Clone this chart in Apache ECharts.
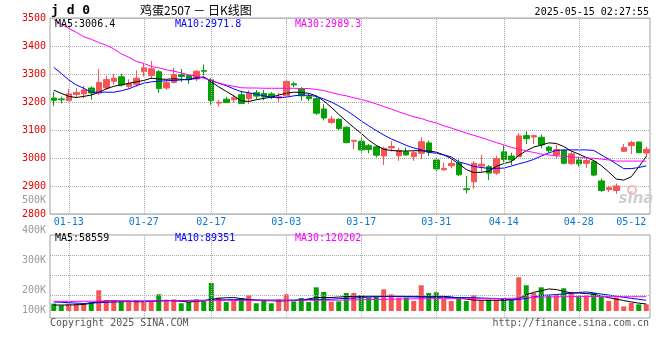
<!DOCTYPE html>
<html>
<head>
<meta charset="utf-8">
<script src="https://cdn.jsdelivr.net/npm/echarts@6.0.0/dist/echarts.min.js"></script>
<style>html,body{margin:0;padding:0;background:#fff;}#c{width:660px;height:360px;}</style>
</head>
<body>
<div id="c"></div>
<script>
const dates = ['01-09','01-10','01-13','01-14','01-15','01-16','01-17','01-20','01-21','01-22','01-23','01-24','01-27',
'02-05','02-06','02-07','02-10','02-11','02-12','02-13','02-14','02-17','02-18','02-19','02-20','02-21','02-24','02-25','02-26','02-27','02-28',
'03-03','03-04','03-05','03-06','03-07','03-10','03-11','03-12','03-13','03-14','03-17','03-18','03-19','03-20','03-21','03-24','03-25','03-26','03-27','03-28','03-31',
'04-01','04-02','04-03','04-07','04-08','04-09','04-10','04-11','04-14','04-15','04-16','04-17','04-18','04-21','04-22','04-23','04-24','04-25','04-28','04-29','04-30',
'05-06','05-07','05-08','05-09','05-12','05-13','05-14'];

const opens  = [3214,3211,3205,3227,3229,3250,3232,3250,3274,3290, 3256,3263,3308,3295,3308,3250,3270,3297,3295,3282,
                3312,3279,3196,3210,3208,3226,3212,3233,3230,3229, 3214,3222,3265,3247,3219,3212,3175,3127,3138,3110,
                3060,3060,3044,3040,3007,3036,3008,3022,3005,3017, 3054,2993,2958,2972,2982,2890,2915,2971,2969,2946,
                3022,3007,3005,3080,3075,3074,3039,3011,3027,2980, 2993,2981,2987,2918,2887,2884,3024,3044,3057,3018];
const closes = [3206,3208,3229,3234,3243,3232,3270,3280,3285,3261, 3266,3285,3322,3319,3248,3270,3298,3291,3282,3310,
                3310,3205,3199,3198,3215,3195,3230,3221,3218,3217, 3219,3273,3261,3222,3212,3160,3143,3139,3105,3055,
                3063,3029,3030,3010,3035,3041,3027,3011,3019,3058, 3021,2961,2963,2980,2940,2887,2981,2978,2946,2998,
                2994,2993,3079,3069,3080,3047,3026,3030,2981,3015, 2979,2991,2939,2884,2894,2900,3037,3055,3019,3031];
const lows   = [3186,3195,3203,3216,3213,3208,3225,3244,3262,3255, 3248,3255,3291,3282,3232,3243,3267,3272,3265,3275,
                3295,3190,3184,3196,3198,3193,3193,3210,3206,3210, 3199,3215,3253,3205,3203,3154,3134,3122,3100,3053,
                3032,3019,3017,3002,2975,3023,2990,3008,2990,2996, 3008,2953,2954,2963,2936,2874,2890,2951,2921,2939,
                2985,2975,3003,3050,3050,3035,3020,2999,2977,2976, 2969,2965,2935,2879,2879,2872,3022,3014,3017,3002];
const highs  = [3236,3219,3247,3250,3257,3255,3318,3294,3300,3300, 3281,3313,3339,3347,3315,3278,3322,3318,3299,3314,
                3334,3286,3208,3219,3225,3240,3242,3243,3243,3235, 3233,3281,3272,3253,3229,3219,3193,3150,3142,3112,
                3064,3076,3050,3046,3040,3060,3036,3037,3026,3074, 3062,3000,2983,2995,2995,2936,2989,3011,2975,3008,
                3045,3019,3088,3095,3082,3084,3043,3047,3030,3023, 3005,3001,2993,2927,2901,2909,3050,3062,3059,3040];

const ma5  = [3242,3231,3220,3216,3220,3225,3234,3247,3256,3261, 3267,3272,3277,3285,3282,3281,3283,3281,3279,3286,
              3290,3272,3254,3238,3222,3204,3202,3208,3213,3217, 3225,3231,3235,3234,3231,3222,3204,3181,3156,3132,
              3109,3088,3064,3045,3031,3027,3025,3025,3026,3026, 3025,3021,3011,2998,2979,2959,2948,2949,2953,2970,
              2980,2987,3009,3026,3039,3046,3054,3052,3041,3025, 3014,3002,2991,2973,2950,2925,2921,2933,2968,3006];
const ma10 = [3324,3302,3279,3261,3249,3235,3235,3235,3235,3240, 3247,3258,3267,3272,3274,3276,3277,3279,3281,3285,
              3288,3276,3267,3258,3247,3237,3233,3228,3222,3217, 3216,3217,3222,3225,3224,3220,3211,3200,3186,3170,
              3152,3132,3115,3098,3082,3068,3057,3045,3036,3029, 3020,3017,3011,3004,2986,2979,2970,2966,2963,2963,
              2964,2971,2979,2986,2995,3007,3018,3027,3029,3029, 3029,3029,3027,3011,2996,2979,2962,2962,2966,2972];
const ma30 = [3494,3478,3463,3449,3433,3424,3412,3403,3390,3372, 3360,3345,3338,3327,3322,3315,3310,3304,3297,3292,
              3285,3277,3268,3261,3256,3251,3250,3250,3249,3249, 3249,3249,3249,3248,3248,3245,3241,3234,3227,3222,
              3215,3209,3202,3193,3184,3175,3165,3156,3147,3141, 3132,3125,3115,3107,3098,3089,3081,3073,3064,3055,
              3047,3038,3032,3025,3020,3014,3011,3008,3006,3004, 3002,3000,2999,2996,2993,2989,2989,2989,2989,2989];

const volumesK = [62,48,62,62,67,76,174,90,90,84, 76,90,76,76,140,84,98,65,76,98,
                  90,235,112,76,90,109,132,65,90,65, 98,140,81,109,76,199,160,78,81,151,
                  151,132,112,123,182,140,112,112,84,216, 151,157,101,84,112,84,132,90,95,95,
                  109,90,283,216,151,199,132,140,191,160, 123,132,151,118,84,112,39,67,56,56];
const volMa5K  = [50,50,50,52,55,65,79,84,84,84, 84,77,79,81,86,90,86,81,76,80,
                  86,98,107,111,113,104,96,90,87,86, 84,86,88,90,102,113,113,113,117,121,
                  123,123,124,124,124,124,124,123,123,123, 123,123,123,118,108,100,92,90,90,90,
                  90,97,104,136,157,170,185,180,165,152, 150,147,140,126,112,100,88,76,66,59];
const volMa10K = [76,73,70,66,63,67,70,73,75,78, 80,82,83,84,85,86,87,88,89,90,
                  90,92,93,94,96,95,94,93,92,91, 90,90,92,94,96,98,98,99,103,106,
                  109,113,117,120,123,122,121,119,118,117, 116,115,115,114,113,113,111,109,107,105,
                  98,90,98,106,118,130,134,138,144,150, 155,160,152,142,134,125,115,106,98,90];
const volMa30K = [81,81,81,81,82,82,82,82,83,83, 83,84,84,84,85,85,86,86,87,87,
                  88,88,88,89,89,89,89,90,90,90, 90,90,90,90,90,90,90,90,91,92,
                  93,94,96,97,98,99,100,101,102,103, 104,104,104,104,104,104,104,104,104,104,
                  105,107,109,112,115,117,118,119,120,121, 122,122,122,121,121,120,120,120,120,120];

const labelDates = ['01-13','01-27','02-17','03-03','03-17','03-31','04-14','04-28','05-12'];
const gridDates  = ['01-13','01-27','02-17','03-03','03-17','03-31','04-14','04-28'];
const priceMin = 2800, priceMax = 3500, priceStep = 100;
const volMaxK = 638;
const volTickLabels = ['500K','400K','300K','200K','100K'];
const volGridK = [134, 302, 470];
const legendMain = ['MA5:3006.4','MA10:2971.8','MA30:2989.3'];
const legendVol  = ['MA5:58559','MA10:89351','MA30:120202'];
const titleCode = 'j d 0';
const titleName = '鸡蛋2507 － 日K线图';
const stamp = '2025-05-15 02:27:55';

const RED = '#f75454', GREEN = '#06a006';
const MONO = '"DejaVu Sans Mono", monospace';
const gridLine = {color:'#aaaaaa', type:[1,1], width:1};

const chart = echarts.init(document.getElementById('c'), null, {renderer:'canvas'});

const candleData = dates.map((d,i)=>[opens[i], closes[i], lows[i], highs[i]]);
const volData = volumesK.map((v,i)=>({value:v, itemStyle:{color: closes[i] >= opens[i] ? RED : GREEN}}));

function txt(x, y, s, fill, font, align){
  return {type:'text', x:x, y:y, silent:true, z:100,
    style:{text:s, fill:fill, font:font, textAlign:align||'left', align:align||'left',
           textVerticalAlign:'middle', verticalAlign:'middle'}};
}
const legendColors = ['#000000','#0000ff','#ff00ff'];
const legendX = [55, 175, 295];
const volLabelY = [200.5, 230.5, 260.5, 290.5, 310];

const graphics = [
  txt(51, 11, titleCode, '#000', 'bold 13px "DejaVu Sans Mono", monospace'),
  txt(140, 10, titleName, '#000', '12px "Noto Sans CJK SC"'),
  txt(649, 12, stamp, '#000', '10px ' + MONO, 'right'),
  txt(649, 323, 'http://finance.sina.com.cn', '#555', '10px ' + MONO, 'right'),
  txt(50, 323, 'Copyright 2025 SINA.COM', '#555', '10px ' + MONO),
  {type:'circle', shape:{cx:632, cy:190, r:4}, silent:true, z:5,
    style:{fill:'none', stroke:'#f3b7b7', lineWidth:2}},
  txt(636, 199, 'sina', '#cfcfcf', 'italic bold 15px "DejaVu Sans"', 'center')
];
legendMain.forEach((s,k)=>graphics.push(txt(legendX[k], 24.5, s, legendColors[k], '10px ' + MONO)));
legendVol.forEach((s,k)=>graphics.push(txt(legendX[k], 238.5, s, legendColors[k], '10px ' + MONO)));
volTickLabels.forEach((s,k)=>graphics.push(txt(46, volLabelY[k], s, '#9a9a9a', '10px ' + MONO, 'right')));

function maLine(name, data, color, xi, yi){
  return {name:name, type:'line', data:data, xAxisIndex:xi, yAxisIndex:yi, symbol:'none', z:4,
    silent:true, lineStyle:{color:color, width:1}, itemStyle:{color:color}};
}
function hiddenCat(gi){
  return {type:'category', data:dates, gridIndex:gi, boundaryGap:true,
      axisLine:{show:false}, axisTick:{show:false}, splitLine:{show:false}, axisLabel:{show:false}};
}

const option = {
  animation:false,
  backgroundColor:'#fff',
  grid:[
    {left:50, top:18, width:600, height:196, show:true, borderColor:'#a0a0a0', borderWidth:1},
    {left:50, top:235, width:600, height:76, show:false},
    {left:50, top:235, width:600, height:83, show:true, borderColor:'#a0a0a0', borderWidth:1}
  ],
  xAxis:[
    {type:'category', data:dates, gridIndex:0, boundaryGap:true,
      axisLine:{show:false}, axisTick:{show:false}, splitLine:{show:false},
      axisLabel:{interval:(i,v)=>labelDates.includes(v), color:'#0a78d2', fontSize:10, fontFamily:MONO, margin:3}},
    hiddenCat(1),
    hiddenCat(2)
  ],
  yAxis:[
    {type:'value', gridIndex:0, min:priceMin, max:priceMax, interval:priceStep,
      axisLine:{show:false}, axisTick:{show:false},
      splitLine:{show:true, lineStyle:gridLine},
      axisLabel:{color:'#e60000', fontSize:10, fontFamily:MONO, margin:4, formatter:v=>String(v)}},
    {type:'value', gridIndex:1, min:0, max:volMaxK,
      axisLine:{show:false}, axisTick:{show:false}, splitLine:{show:false}, axisLabel:{show:false}},
    {type:'value', gridIndex:2, min:0, max:1,
      axisLine:{show:false}, axisTick:{show:false}, splitLine:{show:false}, axisLabel:{show:false}}
  ],
  graphic: graphics,
  series:[
    {type:'line', xAxisIndex:0, yAxisIndex:0, data:[], z:1, silent:true,
      markLine:{silent:true, symbol:['none','none'], label:{show:false}, lineStyle:gridLine,
        emphasis:{disabled:true}, animation:false, data: gridDates.map(d=>({xAxis:d}))}},
    {type:'candlestick', xAxisIndex:0, yAxisIndex:0, data:candleData, barWidth:6, z:3, silent:true,
      itemStyle:{color:RED, color0:GREEN, borderColor:RED, borderColor0:GREEN, borderWidth:1}},
    maLine('MA5', ma5, '#000000', 0, 0),
    maLine('MA10', ma10, '#0000ff', 0, 0),
    maLine('MA30', ma30, '#ff00ff', 0, 0),
    {type:'line', xAxisIndex:2, yAxisIndex:2, data:[], z:1, silent:true,
      markLine:{silent:true, symbol:['none','none'], label:{show:false}, lineStyle:gridLine,
        emphasis:{disabled:true}, animation:false, data: gridDates.map(d=>({xAxis:d}))}},
    {type:'line', xAxisIndex:1, yAxisIndex:1, data:[], z:1, silent:true,
      markLine:{silent:true, symbol:['none','none'], label:{show:false}, lineStyle:gridLine,
        emphasis:{disabled:true}, animation:false, data: volGridK.map(v=>({yAxis:v}))}},
    {type:'bar', xAxisIndex:1, yAxisIndex:1, data:volData, barWidth:5, z:3, silent:true},
    maLine('VMA5', volMa5K, '#000000', 1, 1),
    maLine('VMA10', volMa10K, '#0000ff', 1, 1),
    maLine('VMA30', volMa30K, '#ff00ff', 1, 1)
  ]
};
chart.setOption(option);
</script>
</body>
</html>
